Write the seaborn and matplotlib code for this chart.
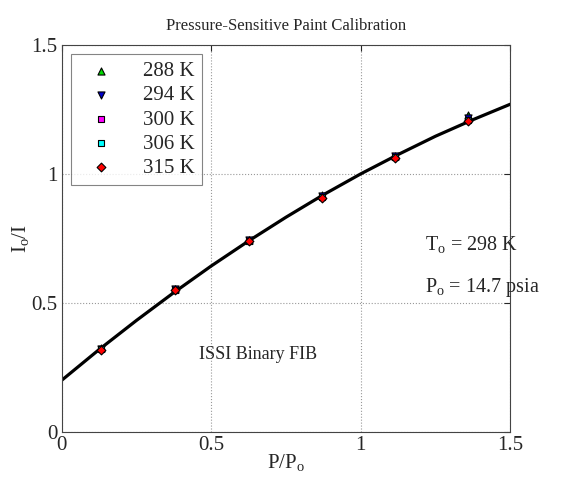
import numpy as np
import pandas as pd
import matplotlib
matplotlib.use("Agg")
import matplotlib.pyplot as plt
import seaborn as sns

# calibration data
p_ratio = [0.13, 0.38, 0.625, 0.87, 1.115, 1.36]
temps = ["288 K", "294 K", "300 K", "306 K", "315 K"]
i_ratio = {
    "288 K": [0.325, 0.555, 0.745, 0.92, 1.07, 1.228],
    "294 K": [0.322, 0.552, 0.742, 0.915, 1.068, 1.215],
    "300 K": [0.32, 0.55, 0.74, 0.912, 1.065, 1.21],
    "306 K": [0.32, 0.55, 0.74, 0.91, 1.065, 1.208],
    "315 K": [0.318, 0.548, 0.738, 0.908, 1.062, 1.205],
}
markers = {"288 K": "^", "294 K": "v", "300 K": "s", "306 K": "s", "315 K": "D"}
sizes = {"288 K": 26, "294 K": 26, "300 K": 16, "306 K": 16, "315 K": 20}
colors = {"288 K": "#00dd00", "294 K": "#0000cc", "300 K": "#ff00ff",
          "306 K": "#00ffff", "315 K": "#ff0000"}

# fitted curve, read at regular steps
fit_x = [0, 0.125, 0.25, 0.375, 0.5, 0.625, 0.75, 0.875, 1.0, 1.125, 1.25, 1.375, 1.5]
fit_y = [0.20, 0.319, 0.432, 0.54, 0.643, 0.74, 0.832, 0.919, 1.0, 1.075, 1.146, 1.21, 1.27]

rows = []
for t in temps:
    for x, y in zip(p_ratio, i_ratio[t]):
        rows.append({"P": x, "I": y, "T": t})
df = pd.DataFrame(rows)
fit = pd.DataFrame({"P": fit_x, "I": fit_y})

sns.set_style("white")
plt.rcParams["font.family"] = ["Liberation Serif", "DejaVu Serif"]
plt.rcParams["mathtext.fontset"] = "custom"
plt.rcParams["mathtext.rm"] = "Liberation Serif"
plt.rcParams["mathtext.it"] = "Liberation Serif:italic"

fig = plt.figure(figsize=(5.72, 4.83), dpi=100)
ax = fig.add_axes([0.108, 0.106, 0.784, 0.801])

sns.lineplot(data=fit, x="P", y="I", color="black", lw=2.3, ax=ax, zorder=2)
for t in temps:
    sns.scatterplot(data=df[df["T"] == t], x="P", y="I", marker=markers[t],
                    color=colors[t], edgecolor="black", linewidth=0.8,
                    s=sizes[t], label=t, ax=ax, zorder=3)

ax.set_xlim(0, 1.5)
ax.set_ylim(0, 1.5)
ax.set_xticks([0, 0.5, 1, 1.5])
ax.set_yticks([0, 0.5, 1, 1.5])
ax.set_xticklabels(["0", "0.5", "1", "1.5"])
ax.set_yticklabels(["0", "0.5", "1", "1.5"])
ax.tick_params(direction="in", length=4, top=True, right=True, labelsize=15, pad=3)
ax.grid(True, linestyle=":", color="#999999", lw=0.8)
for s in ax.spines.values():
    s.set_color("#444444")
    s.set_linewidth(0.8)

ax.set_xlabel("P/P$_\\mathrm{o}$", fontsize=15, labelpad=-2)
ax.set_ylabel("I$_\\mathrm{o}$/I", fontsize=15, labelpad=0)
ax.set_title("Pressure-Sensitive Paint Calibration", fontsize=12, pad=11)

ax.text(1.215, 0.725, "T$_\\mathrm{o}$ = 298 K", fontsize=14.5, va="center")
ax.text(1.215, 0.56, "P$_\\mathrm{o}$ = 14.7 psia", fontsize=14.5, va="center")
ax.text(0.46, 0.30, "ISSI Binary FIB", fontsize=13, va="center")

leg = ax.legend(loc="upper left", fontsize=15, frameon=True, fancybox=False,
                edgecolor="#666666", borderaxespad=0.45, handletextpad=0.9,
                labelspacing=0.22, borderpad=0.35, handlelength=2.2)
leg.get_frame().set_linewidth(0.8)

fig.savefig("out.png", dpi=100)
